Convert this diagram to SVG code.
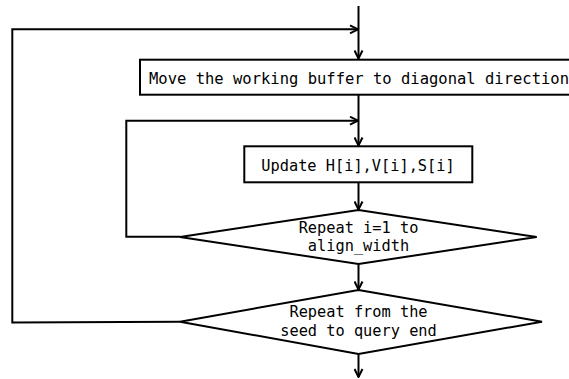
<svg xmlns="http://www.w3.org/2000/svg" width="569" height="379" viewBox="0 0 569 379">
  <style>
    .shape { fill: #ffffff; stroke: #000000; stroke-width: 2; }
    .wire { fill: none; stroke: #000000; stroke-width: 2; }
    .label { font-family: "DejaVu Sans Mono", "Liberation Mono", monospace; font-size: 15.3px; fill: #000000; text-anchor: middle; }
  </style>
  <defs>
    <marker id="arrow" viewBox="0 0 10 10" refX="9" refY="5" markerWidth="10" markerHeight="10" markerUnits="userSpaceOnUse" orient="auto">
      <path d="M1,1 L9,5 L1,9" fill="none" stroke="#000000" stroke-width="2"/>
    </marker>
  </defs>

  <!-- connectors -->
  <g id="connectors">
    <line class="wire" x1="358.5" y1="6" x2="358.5" y2="58.5" marker-end="url(#arrow)"/>
    <polyline class="wire" points="180,321.7 12.3,322.5 12.3,29.3 358,29.3" marker-end="url(#arrow)"/>
    <line class="wire" x1="358.5" y1="95" x2="358.5" y2="145.5" marker-end="url(#arrow)"/>
    <polyline class="wire" points="180,236.7 126.3,236.7 126.3,120.7 358,120.7" marker-end="url(#arrow)"/>
    <line class="wire" x1="358.5" y1="182.5" x2="358.5" y2="209.5" marker-end="url(#arrow)"/>
    <line class="wire" x1="358.5" y1="264" x2="358.5" y2="289.5" marker-end="url(#arrow)"/>
    <line class="wire" x1="358.5" y1="354" x2="358.5" y2="377" marker-end="url(#arrow)"/>
  </g>

  <!-- process: move buffer -->
  <g id="move-buffer">
    <rect class="shape" x="140" y="59.7" width="440" height="35"/>
    <text class="label" x="359" y="83.5" style="font-size:15.5px">Move the working buffer to diagonal direction</text>
  </g>

  <!-- process: update cells -->
  <g id="update-cells">
    <rect class="shape" x="244.3" y="146.3" width="228" height="36"/>
    <text class="label" x="358" y="170.7">Update H[i],V[i],S[i]</text>
  </g>

  <!-- decision: inner loop -->
  <g id="repeat-width">
    <polygon class="shape" points="358.5,210 536.7,237 358.5,264 180,237"/>
    <text class="label" x="358.5" y="233">Repeat i=1 to</text>
    <text class="label" x="358.5" y="251">align_width</text>
  </g>

  <!-- decision: outer loop -->
  <g id="repeat-query">
    <polygon class="shape" points="358.5,290 542,321.7 358.5,354 180,321.7"/>
    <text class="label" x="358.5" y="317">Repeat from the</text>
    <text class="label" x="358.5" y="336">seed to query end</text>
  </g>
</svg>
